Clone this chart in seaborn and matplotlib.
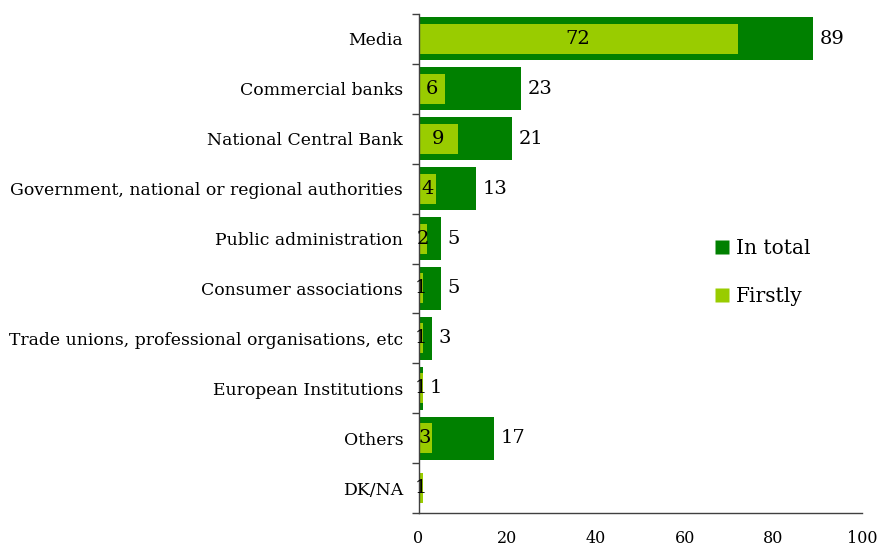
import numpy as np
import pandas as pd
import matplotlib
matplotlib.use("Agg")
import matplotlib.pyplot as plt
import seaborn as sns
from matplotlib.ticker import FixedLocator
from matplotlib.lines import Line2D

categories = [
    "Media",
    "Commercial banks",
    "National Central Bank",
    "Government, national or regional authorities",
    "Public administration",
    "Consumer associations",
    "Trade unions, professional organisations, etc",
    "European Institutions",
    "Others",
    "DK/NA",
]
in_total = [89, 23, 21, 13, 5, 5, 3, 1, 17, np.nan]
firstly = [72, 6, 9, 4, 2, 1, 1, 1, 3, 1]
x_ticks = [0, 20, 40, 60, 80, 100]

DARK = "#008000"
LIGHT = "#99CC00"
INK = "#000000"

sns.set_theme(style="white")
plt.rcParams["font.family"] = ["DejaVu Serif"]

df = pd.DataFrame({"category": categories, "total": in_total, "first": firstly})
df_total = df.dropna(subset=["total"])

fig, ax = plt.subplots(figsize=(8.77, 5.48), dpi=100)
fig.subplots_adjust(left=418.5 / 877, right=862 / 877, top=1 - 14 / 548, bottom=1 - 513 / 548)

sns.barplot(data=df_total, x="total", y="category", order=categories, orient="h",
            color=DARK, width=0.86, saturation=1, ax=ax, edgecolor="none")
sns.barplot(data=df, x="first", y="category", order=categories, orient="h",
            color=LIGHT, width=0.6, saturation=1, ax=ax, edgecolor="none")

ax.set_xlim(0, 100)
ax.set_ylim(len(categories) - 0.5, -0.5)
ax.set_xlabel("")
ax.set_ylabel("")

# value labels: first-mention counts centred in the light bar, totals after the dark bar
for i, (t, f) in enumerate(zip(in_total, firstly)):
    ax.text(f / 2, i, f"{f:.0f}", ha="center", va="center", fontsize=14, color=INK)
    if not np.isnan(t):
        ax.annotate(f"{t:.0f}", xy=(t, i), xytext=(5, 0), textcoords="offset points",
                    ha="left", va="center", fontsize=14, color=INK)

ax.set_xticks(x_ticks)
ax.set_xticklabels([str(v) for v in x_ticks])
ax.tick_params(axis="x", length=5, width=1, color="#404040", pad=7, labelsize=11.5, labelcolor=INK)
ax.tick_params(axis="y", which="major", length=0, pad=11, labelsize=12.4, labelcolor=INK)
ax.yaxis.set_minor_locator(FixedLocator(np.arange(-0.5, len(categories), 1.0)))
ax.tick_params(axis="y", which="minor", left=True, length=5, width=1, color="#404040")

for side in ["top", "right"]:
    ax.spines[side].set_visible(False)
for side in ["left", "bottom"]:
    ax.spines[side].set_color("#404040")
    ax.spines[side].set_linewidth(1)

handles = [
    Line2D([], [], marker="s", linestyle="none", markersize=10, markerfacecolor=DARK, markeredgecolor="none"),
    Line2D([], [], marker="s", linestyle="none", markersize=10, markerfacecolor=LIGHT, markeredgecolor="none"),
]
leg = ax.legend(handles, ["In total", "Firstly"], loc="center left",
                bbox_to_anchor=(0.62, 0.482), frameon=False, fontsize=14.5,
                handletextpad=0.2, labelspacing=1.4, handlelength=1.0)
for txt in leg.get_texts():
    txt.set_color(INK)

fig.savefig("out.png", dpi=100)
